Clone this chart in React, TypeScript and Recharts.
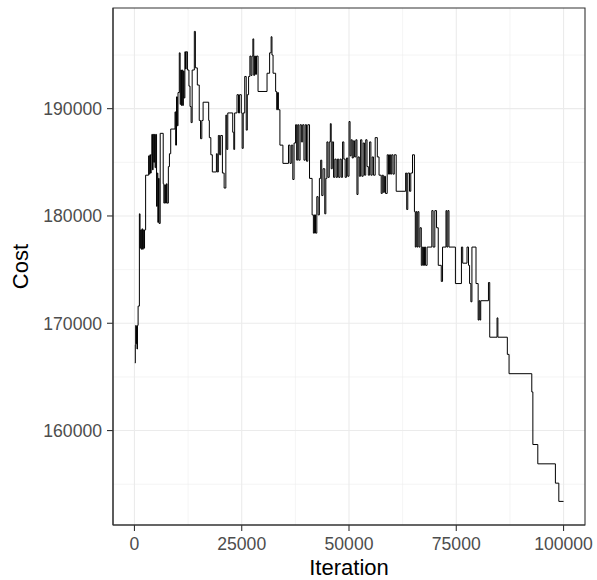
import { LineChart, Line, XAxis, YAxis, CartesianGrid, ReferenceArea } from "recharts";

// Annealing trace: cost recorded at each iteration where it changed
const iterations = [
  100, 200, 300, 400, 500, 600, 700, 850, 1150, 1300,
  1450, 1600, 1750, 1900, 2050, 2200, 2350, 2600, 3300, 3450,
  3600, 3750, 3900, 4050, 4200, 4350, 4500, 4650, 4800, 4950,
  5150, 5300, 5450, 5600, 5750, 6000, 6700, 6850, 7050, 7250,
  7450, 7600, 7900, 8150, 8450, 9450, 9600, 9800, 10000, 10150,
  10450, 10650, 10800, 10950, 11100, 11250, 11400, 11550, 11750, 11900,
  12050, 12350, 12700, 12950, 13200, 13450, 13950, 14200, 14650, 15100,
  15400, 15700, 16000, 17300, 17450, 17800, 18150, 19100, 19300, 19550,
  19850, 20100, 20500, 20900, 21300, 21500, 21750, 22900, 23150, 23350,
  23900, 24250, 24500, 24900, 25100, 25350, 25700, 26050, 26300, 26600,
  26900, 27150, 27400, 27600, 27800, 28000, 28200, 28450, 28800, 30900,
  31500, 31850, 32050, 32300, 32900, 33150, 33350, 33550, 33900, 34600,
  35900, 36250, 36550, 36900, 37200, 37550, 37800, 38050, 38300, 38600,
  38900, 39200, 39500, 39800, 40100, 40400, 40800, 41400, 41700, 41950,
  42200, 42500, 42800, 43100, 43400, 43650, 43950, 44350, 44600, 44850,
  45100, 45400, 45650, 45850, 46100, 46400, 46700, 47000, 47300, 47600,
  47900, 48200, 48500, 48800, 49100, 49400, 49700, 50000, 50250, 50500,
  50750, 51000, 51300, 51600, 51850, 52100, 52400, 52700, 53000, 53300,
  53600, 53900, 54200, 54500, 54800, 55100, 55400, 55700, 56100, 56600,
  57000, 57500, 57750, 58000, 58250, 58500, 58900, 59200, 59450, 59700,
  59950, 60250, 60550, 61000, 63200, 63450, 63700, 64100, 64400, 64800,
  65250, 65450, 65650, 65850, 66050, 66300, 66550, 66850, 67100, 67350,
  67600, 67850, 68200, 69300, 69600, 70000, 70400, 70800, 71500, 71800,
  72600, 72800, 73050, 73300, 74800, 76200, 76500, 77500, 77850, 78100,
  78400, 78650, 79600, 80100, 80300, 80500, 80700, 82500, 82800, 84500,
  84700, 86900, 87300, 92600, 92850, 94000, 98100, 98900, 100000,
];

const costs = [
  166300, 168000, 169800, 168100, 169700, 167600, 169800, 171600, 180200, 177000,
  178700, 176900, 178800, 176900, 178700, 177000, 178700, 183800, 185600, 183900,
  185700, 184000, 185700, 187600, 184300, 187600, 185000, 187600, 184500, 187600,
  180900, 184000, 179400, 183500, 179300, 187700, 183000, 181200, 182900, 181200,
  183000, 181200, 184600, 185800, 188100, 189700, 186600, 191100, 188400, 191500,
  195200, 190400, 193600, 190300, 193600, 190300, 193500, 191000, 195300, 193700,
  195300, 193600, 192100, 190200, 188700, 193600, 197200, 193800, 192200, 188900,
  187200, 188900, 190600, 188900, 187300, 185700, 184100, 185800, 184100, 187500,
  185700, 187500, 184000, 182600, 189400, 186200, 189600, 187800, 186200, 189600,
  191300, 189600, 191300, 189600, 186300, 189600, 193000, 188000, 191300, 193000,
  194900, 193100, 194900, 196500, 193100, 194900, 193200, 194900, 191600, 193300,
  195200, 196700, 195000, 193300, 191600, 189900, 191500, 189900, 186600, 184900,
  186600, 184900, 186600, 183400, 186800, 188500, 185200, 188500, 185200, 188500,
  186900, 188500, 185200, 188500, 185100, 188500, 183500, 180100, 178400, 180100,
  178400, 181800, 180100, 183500, 185200, 181900, 184400, 180200, 183500, 186900,
  183600, 186900, 188600, 184400, 186900, 183600, 185300, 183600, 185300, 183600,
  185300, 183600, 186900, 185300, 183600, 185400, 183700, 188800, 185600, 187100,
  185400, 187000, 185500, 187100, 182000, 185500, 183700, 187100, 183700, 186800,
  183800, 187100, 184600, 183800, 186900, 183800, 185500, 183800, 187300, 185500,
  183800, 182100, 183800, 182200, 183700, 182100, 185700, 183900, 185700, 183900,
  185700, 183900, 185700, 182300, 184000, 180600, 184000, 182300, 184000, 185700,
  180400, 177100, 180400, 177100, 180400, 177100, 178900, 175400, 177100, 175400,
  177100, 175400, 177100, 180500, 177100, 180500, 178900, 175400, 173900, 177100,
  180500, 177100, 180500, 177100, 173700, 177100, 175600, 177100, 175400, 173700,
  172000, 177100, 173700, 170300, 172100, 170300, 172100, 173800, 168700, 170500,
  168700, 167100, 165300, 163600, 158700, 156900, 155100, 153400, 153400,
];

const xTicks = [0, 25000, 50000, 75000, 100000];
const xMinor = [12500, 37500, 62500, 87500];
const yTicks = [160000, 170000, 180000, 190000];
const yMinor = [155000, 165000, 175000, 185000, 195000];

const xDomain = [-5000, 105000];
const yDomain = [151200, 199380];

const data = iterations.map((iter, i) => ({ iter, cost: costs[i] }));

const FONT = "'Liberation Sans', Arial, sans-serif";
const GRID = "#EBEBEB";
const INK = "#333333";

const IterationTitle = (props: any) => {
  const vb = props.viewBox || { x: 113, y: 525, width: 472, height: 55 };
  return (
    <text x={vb.x + vb.width / 2} y={vb.y + vb.height - 5} textAnchor="middle"
      fontFamily={FONT} fontSize={22} fill="#000">
      Iteration
    </text>
  );
};

const CostTitle = (props: any) => {
  const vb = props.viewBox || { x: 0, y: 8, width: 113, height: 517 };
  const cx = vb.x + 28;
  const cy = vb.y + vb.height / 2;
  return (
    <text x={cx} y={cy} transform={`rotate(-90, ${cx}, ${cy})`} textAnchor="middle"
      fontFamily={FONT} fontSize={22} fill="#000">
      Cost
    </text>
  );
};

export default function App() {
  return (
    <div style={{ position: "absolute", left: 0, top: 0, width: 597, height: 580, background: "#fff" }}>
      <LineChart width={597} height={580} data={data}
        margin={{ top: 8, right: 12, bottom: 0, left: 0 }}>
        <CartesianGrid stroke={GRID} strokeWidth={0.55}
          verticalValues={xMinor} horizontalValues={yMinor} />
        <CartesianGrid stroke={GRID} strokeWidth={1.1}
          verticalValues={xTicks} horizontalValues={yTicks} />
        <XAxis dataKey="iter" type="number" domain={xDomain} ticks={xTicks}
          allowDataOverflow height={55} interval={0}
          tickSize={6} tickMargin={7}
          stroke={INK} axisLine={{ stroke: INK, strokeWidth: 1.1 }}
          tickLine={{ stroke: INK, strokeWidth: 1.1 }}
          tick={{ fill: "#4D4D4D", fontSize: 17.6, fontFamily: FONT }}
          label={IterationTitle} />
        <YAxis dataKey="cost" type="number" domain={yDomain} ticks={yTicks}
          allowDataOverflow width={113} interval={0}
          tickSize={6} tickMargin={5}
          stroke={INK} axisLine={{ stroke: INK, strokeWidth: 1.1 }}
          tickLine={{ stroke: INK, strokeWidth: 1.1 }}
          tick={{ fill: "#4D4D4D", fontSize: 17.6, fontFamily: FONT }}
          label={CostTitle} />
        <Line type="stepAfter" dataKey="cost" stroke="#000" strokeWidth={1}
          dot={false} activeDot={false} isAnimationActive={false} />
        <ReferenceArea x1={xDomain[0]} x2={xDomain[1]} y1={yDomain[0]} y2={yDomain[1]}
          fill="none" stroke={INK} strokeWidth={1.1} ifOverflow="visible" />
      </LineChart>
    </div>
  );
}
